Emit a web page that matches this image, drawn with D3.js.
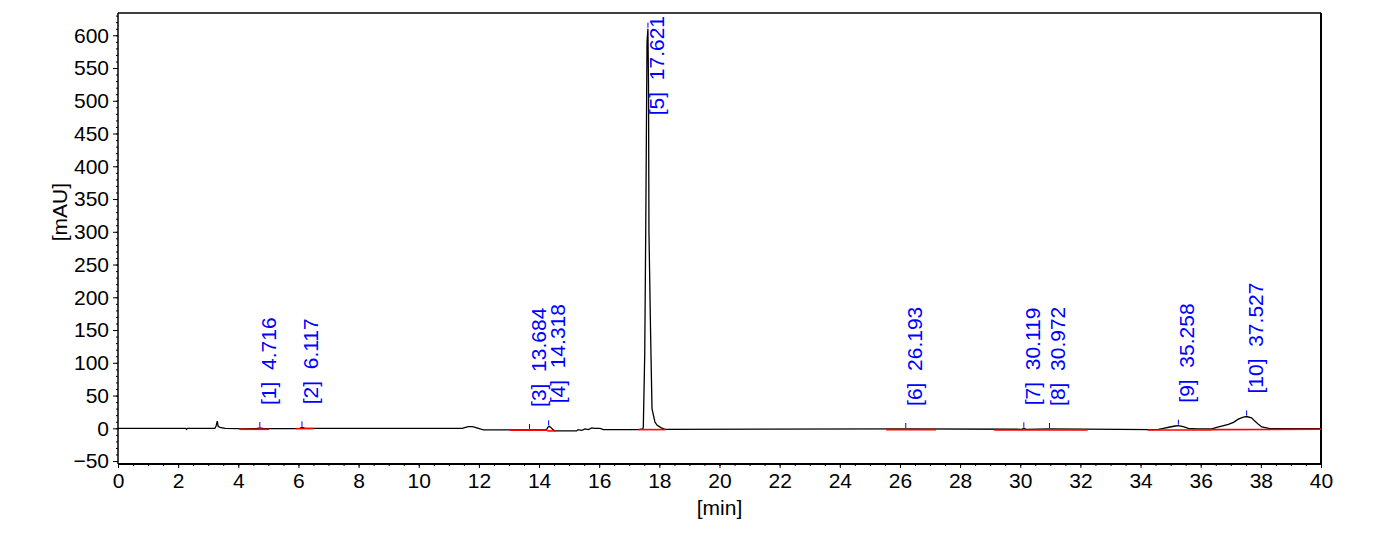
<!DOCTYPE html>
<html>
<head>
<meta charset="utf-8">
<script src="https://cdn.jsdelivr.net/npm/d3@7"></script>
<style>
  body { margin: 0; background: #fff; }
  text { font-family: "Liberation Sans", Arial, sans-serif; }
</style>
</head>
<body>
<svg></svg>
<script>
// signal trace
const traceTime = [0, 2.25, 2.28, 2.31, 3.22, 3.26, 3.30, 3.33, 3.39, 3.56, 4.00, 4.05, 4.60, 4.716, 4.85, 5.90, 6.05, 6.12, 6.22, 6.50,
  11.45, 11.55, 11.65, 11.78, 11.88, 12.04, 12.15, 13.684, 14.25, 14.30, 14.34, 14.40, 14.47, 14.53, 15.25, 15.30, 15.42, 15.53, 15.64, 15.75, 15.86, 16.03, 16.14,
  17.30, 17.45, 17.467, 17.514, 17.547, 17.59, 17.62, 17.64, 17.655, 17.71, 17.756, 17.85, 17.92, 18.05, 18.19,
  26.193, 30.05, 30.12, 30.20, 30.972, 34.40, 34.59, 34.76, 34.98, 35.15, 35.26, 35.42, 35.59, 35.87, 36.37, 36.53, 36.70, 36.92, 37.09, 37.25, 37.42, 37.53, 37.69, 37.80, 37.92, 38.03, 38.19, 38.30, 40]
const traceSignal = [0, 0, -1.5, 0, 0, 3, 11, 3, 1.5, 0, -0.5, -1, -0.5, 0.5, -0.5, -0.5, 0, 1.5, 0, 0,
  0, 1.5, 2.5, 2.5, 1.5, -1, -2.5, -2.5, -2, 2, 3, 1, -2.5, -4, -4, -2, -3, -1, -2, 0.5, 0, 0, -2,
  -2, -1, 2, 114, 300, 590, 610, 520, 298, 142, 30, 10, 5, 1, -1.5,
  -1, -1.5, 0, -1.5, -1, -2, -1.5, 0, 2, 3.5, 4, 2.5, 0, -1, -1, 1.5, 3.5, 6, 9, 14, 17, 18, 16, 11, 6, 2, 0.5, -0.5, -0.5]

// peak table
const peakNo = [1, 2, 3, 4, 5, 6, 7, 8, 9, 10]
const peakRt = ["4.716", "6.117", "13.684", "14.318", "17.621", "26.193", "30.119", "30.972", "35.258", "37.527"]
const peakApex = [0.5, 1.5, -2.5, 3, 610, -1, 0, -1, 4, 18]
const baseStart = [4.05, 5.92, 13.03, 14.27, 17.30, 25.54, 29.13, 30.50, 34.23, 36.37]
const baseEnd = [5.02, 6.49, 14.27, 14.55, 18.21, 27.20, 30.50, 32.24, 36.37, 40.0]
const baseStartVal = [-1.5, -0.5, -3, -4, -2, -2, -2.5, -2.5, -2.5, -2]
const baseEndVal = [-1.5, -0.5, -3, -4, -2, -2, -2.5, -2.5, -2.5, -1.5]

// axes
const xTicks = d3.range(0, 41, 2)
const xMinor = d3.range(0, 40.01, 0.5)
const yTicks = d3.range(-50, 601, 50)
const yMinor = d3.range(-50, 631, 10)

const svgWidth = 1386, svgHeight = 540,
  margin = {top: 13, right: 65, bottom: 76, left: 118},
  width = svgWidth - margin.left - margin.right,
  height = svgHeight - margin.top - margin.bottom

const svg = d3.select("svg").attr("width", svgWidth).attr("height", svgHeight)
const chart = svg.append("g").attr("transform", `translate(${margin.left},${margin.top})`)

const x = d3.scaleLinear().domain([0, 40]).range([0, width]),
      y = d3.scaleLinear().domain([-54.5, 634]).range([height, 0])

svg.append("defs").append("clipPath").attr("id", "plot")
  .append("rect").attr("width", width).attr("height", height)

// minor ticks first, then labelled ticks
chart.append("g").attr("transform", `translate(0,${height})`)
  .call(d3.axisBottom(x).tickValues(xMinor).tickSize(2).tickFormat(""))
  .call(g => g.select(".domain").remove())
chart.append("g").attr("transform", `translate(0,${height})`)
  .call(d3.axisBottom(x).tickValues(xTicks).tickSize(4).tickPadding(5).tickFormat(d3.format("d")))
  .call(g => g.select(".domain").remove())
  .selectAll("text").style("font-size", "21px").style("fill", "#000")

chart.append("g")
  .call(d3.axisLeft(y).tickValues(yMinor).tickSize(2).tickFormat(""))
  .call(g => g.select(".domain").remove())
chart.append("g")
  .call(d3.axisLeft(y).tickValues(yTicks).tickSize(5).tickPadding(4).tickFormat(d3.format("d")))
  .call(g => g.select(".domain").remove())
  .selectAll("text").style("font-size", "21px").style("fill", "#000")

// frame
chart.append("line").attr("x1", 0).attr("x2", width).attr("y1", 0).attr("y2", 0).style("stroke", "#000").style("stroke-width", 1.5)
chart.append("line").attr("x1", width).attr("x2", width).attr("y1", 0).attr("y2", height).style("stroke", "#000").style("stroke-width", 2)
chart.append("line").attr("x1", 0).attr("x2", 0).attr("y1", 0).attr("y2", height).style("stroke", "#000").style("stroke-width", 1.5)
chart.append("line").attr("x1", 0).attr("x2", width).attr("y1", height).attr("y2", height).style("stroke", "#000").style("stroke-width", 2)

// axis titles
chart.append("text").text("[min]").attr("x", x(20)).attr("y", height + 51).style("text-anchor", "middle").style("font-size", "21px")
chart.append("text").text("[mAU]").attr("transform", `translate(${-51},${y(330)}) rotate(-90)`).style("text-anchor", "middle").style("font-size", "21px")

const plot = chart.append("g").attr("clip-path", "url(#plot)")

// trace
const line = d3.line().x(i => x(traceTime[i])).y(i => y(traceSignal[i]))
plot.append("path").datum(d3.range(traceTime.length)).attr("d", line)
  .style("fill", "none").style("stroke", "#000").style("stroke-width", 1.3)

// integration baselines, drawn over the trace
plot.selectAll("line.base").data(peakNo).join("line").attr("class", "base")
  .attr("x1", (d, i) => x(baseStart[i])).attr("x2", (d, i) => x(baseEnd[i]))
  .attr("y1", (d, i) => y(baseStartVal[i])).attr("y2", (d, i) => y(baseEndVal[i]))
  .style("stroke", "#ff0000").style("stroke-width", 1.6)

// apex marks
plot.selectAll("line.apex").data(peakNo).join("line").attr("class", "apex")
  .attr("x1", (d, i) => x(+peakRt[i])).attr("x2", (d, i) => x(+peakRt[i]))
  .attr("y1", (d, i) => y(peakApex[i]) - 1).attr("y2", (d, i) => y(peakApex[i]) - 6)
  .style("stroke", "#0000ff").style("stroke-width", 1)

// peak labels, pushed down when they would run out of the top
chart.selectAll("text.peak").data(peakNo).join("text").attr("class", "peak")
  .text((d, i) => `[${d}]\u00a0\u00a0${peakRt[i]}`)
  .style("font-size", "21px").style("fill", "#0000ff")
  .attr("transform", function(d, i) {
    const len = this.getComputedTextLength(),
          bottom = Math.max(y(peakApex[i]) - 23, 3 + len)
    return `translate(${x(+peakRt[i]) + 16},${bottom}) rotate(-90)`
  })
</script>
</body>
</html>
